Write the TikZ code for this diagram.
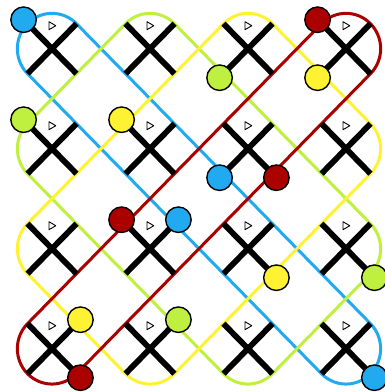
\documentclass[tikz,border=0pt]{standalone}
\usetikzlibrary{positioning}

\definecolor{loopblue}{HTML}{22AAF0}
\definecolor{loopgreen}{HTML}{BFEF3F}
\definecolor{loopyellow}{HTML}{FFF233}
\definecolor{loopred}{HTML}{AA0000}

\begin{document}
\begin{tikzpicture}[x=98pt,y=-100pt,
    loop/.style={line width=3pt,line join=round},
    arm/.style={line width=5.8pt},
    knob/.style={circle,draw=black,line width=1.4pt,minimum size=25.5pt,inner sep=0pt,fill=#1},
    flag/.style={draw=black,fill=white,line width=0.9pt,line join=round}]
  \useasboundingbox (-0.0306,0.013) rectangle (3.888,3.933);

  % Tile centres
  \foreach \i in {0,...,3}
    \foreach \j in {0,...,3}
      \coordinate (t\i\j) at (\i+0.5,\j+0.5);

  % Loops
  \draw[loop,loopblue] (0.75,0.25) -- (3.75,3.25)
    arc[start angle=-45,end angle=135,radius=0.3536] -- (0.25,0.75)
    arc[start angle=135,end angle=315,radius=0.3536] -- cycle;
  \draw[loop,loopgreen] (1.75,0.25) -- (3.75,2.25)
    arc[start angle=-45,end angle=45,radius=0.3536] -- (2.75,3.75)
    arc[start angle=45,end angle=135,radius=0.3536] -- (0.25,1.75)
    arc[start angle=135,end angle=225,radius=0.3536] -- (1.25,0.25)
    arc[start angle=225,end angle=315,radius=0.3536] -- cycle;
  \draw[loop,loopyellow] (2.75,0.25) -- (3.75,1.25)
    arc[start angle=-45,end angle=45,radius=0.3536] -- (1.75,3.75)
    arc[start angle=45,end angle=135,radius=0.3536] -- (0.25,2.75)
    arc[start angle=135,end angle=225,radius=0.3536] -- (2.25,0.25)
    arc[start angle=225,end angle=315,radius=0.3536] -- cycle;
  \draw[loop,loopred] (3.75,0.75) -- (0.75,3.75)
    arc[start angle=45,end angle=225,radius=0.3536] -- (3.25,0.25)
    arc[start angle=225,end angle=405,radius=0.3536] -- cycle;

  % Crosses and markers
  \foreach \i in {0,...,3}
    \foreach \j in {0,...,3} {
      \draw[arm] ([shift={(-0.25,-0.25)}]t\i\j) -- ([shift={(0.25,0.25)}]t\i\j);
      \draw[arm] ([shift={(0.25,-0.25)}]t\i\j) -- ([shift={(-0.25,0.25)}]t\i\j);
      \draw[flag] ([shift={(-3pt,27pt)}]t\i\j) -- ([shift={(-3pt,19pt)}]t\i\j)
        -- ([shift={(3.8pt,23pt)}]t\i\j) -- cycle;
    }

  % Knobs
  \node[knob=loopblue]   (b1) at ([shift={(-0.29,-0.29)}]t00) {};
  \node[knob=loopblue]   (b2) at ([shift={(-0.29,0.29)}]t21) {};
  \node[knob=loopblue]   (b3) at ([shift={(0.29,-0.29)}]t12) {};
  \node[knob=loopblue]   (b4) at ([shift={(0.29,0.29)}]t33) {};
  \node[knob=loopgreen]  (g1) at ([shift={(-0.29,-0.29)}]t01) {};
  \node[knob=loopgreen]  (g2) at ([shift={(-0.29,0.29)}]t20) {};
  \node[knob=loopgreen]  (g3) at ([shift={(0.29,-0.29)}]t13) {};
  \node[knob=loopgreen]  (g4) at ([shift={(0.29,0.29)}]t32) {};
  \node[knob=loopyellow] (y1) at ([shift={(-0.29,-0.29)}]t11) {};
  \node[knob=loopyellow] (y2) at ([shift={(-0.29,0.29)}]t30) {};
  \node[knob=loopyellow] (y3) at ([shift={(0.29,0.29)}]t22) {};
  \node[knob=loopyellow] (y4) at ([shift={(0.29,-0.29)}]t03) {};
  \node[knob=loopred]    (r1) at ([shift={(-0.29,-0.29)}]t30) {};
  \node[knob=loopred]    (r2) at ([shift={(0.29,0.29)}]t21) {};
  \node[knob=loopred]    (r3) at ([shift={(-0.29,-0.29)}]t12) {};
  \node[knob=loopred]    (r4) at ([shift={(0.29,0.29)}]t03) {};
\end{tikzpicture}
\end{document}
